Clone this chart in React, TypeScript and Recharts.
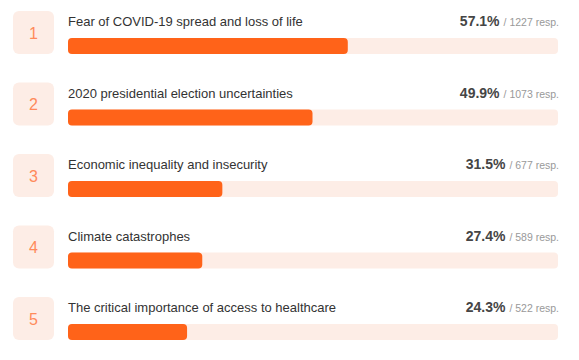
import React from 'react';
import { BarChart, Bar, XAxis, YAxis, LabelList } from 'recharts';

const ranks = ['1', '2', '3', '4', '5'];
const concerns = [
  'Fear of COVID-19 spread and loss of life',
  '2020 presidential election uncertainties',
  'Economic inequality and insecurity',
  'Climate catastrophes',
  'The critical importance of access to healthcare',
];
const percents = [57.1, 49.9, 31.5, 27.4, 24.3];
const responses = [1227, 1073, 677, 589, 522];

const data = concerns.map((c, i) => ({ name: c, rank: ranks[i], pct: percents[i], resp: responses[i] }));

const FONT = '"Liberation Sans", Arial, Helvetica, sans-serif';

const RowLabel = (props: any) => {
  const { x, y, width, height, index } = props;
  const d = data[index];
  const fullW = (width * 100) / d.pct;
  const right = x + fullW + 1;
  const boxTop = y - 27;
  const boxH = height + 27;
  return (
    <g fontFamily={FONT}>
      <rect x={x - 55} y={boxTop} width={41} height={boxH} rx={6} ry={6} fill="#fdede6" />
      <text x={x - 34.5} y={boxTop + boxH / 2 + 6} textAnchor="middle" fontSize={16} fill="#ff8a5b">
        {d.rank}
      </text>
      <text x={x} y={y - 12} fontSize={13} fill="#333">
        {d.name}
      </text>
      <text x={right} y={y - 12} textAnchor="end" fill="#454545">
        <tspan fontSize={14} fontWeight={600}>{d.pct.toFixed(1) + '%'}</tspan>
        <tspan fontSize={10.5} fontWeight={400} fill="#999" dx={4}>{'/ ' + d.resp + ' resp.'}</tspan>
      </text>
    </g>
  );
};

export default function App() {
  return (
    <div style={{ position: 'absolute', top: 0, left: 0, width: 579, height: 360, overflow: 'hidden', background: '#fff' }}>
      <BarChart
        width={579}
        height={370}
        data={data}
        layout="vertical"
        margin={{ top: 10, right: 21, bottom: 2.5, left: 68 }}
        barSize={16}
      >
        <XAxis type="number" domain={[0, 100]} hide />
        <YAxis type="category" dataKey="name" hide />
        <Bar
          dataKey="pct"
          fill="#ff6319"
          radius={4}
          background={{ fill: '#fdede6', radius: 4 } as any}
          isAnimationActive={false}
        >
          <LabelList dataKey="pct" content={<RowLabel />} />
        </Bar>
      </BarChart>
    </div>
  );
}
